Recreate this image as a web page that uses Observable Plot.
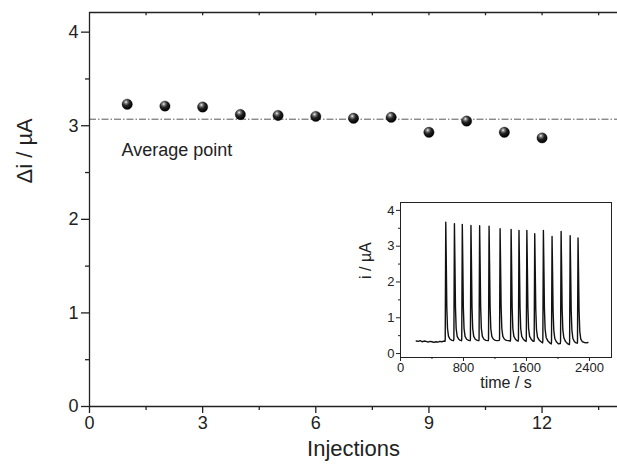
<!DOCTYPE html>
<html>
<head>
<meta charset="utf-8">
<script src="https://cdn.jsdelivr.net/npm/d3@7"></script>
<script src="https://cdn.jsdelivr.net/npm/@observablehq/plot@0.6"></script>
<style>
  html, body { margin: 0; padding: 0; background: white; }
  #wrap { position: relative; width: 617px; height: 465px; overflow: hidden; }
  #inset { position: absolute; left: 340px; top: 190px; }
  svg { display: block; }
</style>
</head>
<body>
<div id="wrap"><div id="main"></div><div id="inset"></div></div>
<script>
// ---- main chart data ----
const injections = [1, 2, 3, 4, 5, 6, 7, 8, 9, 10, 11, 12];
const deltaI = [3.23, 3.21, 3.20, 3.12, 3.11, 3.10, 3.08, 3.09, 2.93, 3.05, 2.93, 2.87];
const averagePoint = 3.07;
const averageLabel = "Average point";
const xTicks = [0, 3, 6, 9, 12];
const xMinorTicks = [1.5, 4.5, 7.5, 10.5, 13.5];
const topTicks = [1.5, 3, 4.5, 6, 7.5, 9, 10.5, 12, 13.5];
const yTicks = [0, 1, 2, 3, 4];
const yMinorTicks = [0.5, 1.5, 2.5, 3.5];
const xLabel = "Injections";
const yLabel = "Δi / µA";

// ---- inset data (current trace) ----
const traceTime = [
  200,225,250,275,300,325,350,375,400,425,450,475,500,525,550,565,
  568,575,581,588,597,610,630,655,672,
  678,685,691,698,707,720,740,760,775,
  778,785,791,798,807,820,840,865,885,
  888,895,901,908,917,930,950,975,995,
  998,1005,1011,1018,1027,1040,1060,1085,1115,
  1118,1125,1131,1138,1147,1160,1180,1205,1230,1255,
  1258,1265,1271,1278,1287,1300,1320,1345,1370,1395,
  1398,1405,1411,1418,1427,1440,1460,1480,1495,
  1498,1505,1511,1518,1527,1540,1560,1580,1595,
  1598,1605,1611,1618,1627,1640,1660,1680,1695,
  1698,1705,1711,1718,1727,1740,1760,1785,1805,
  1808,1815,1821,1828,1837,1850,1870,1895,1915,
  1918,1925,1931,1938,1947,1960,1980,2005,2030,
  2033,2040,2046,2053,2062,2075,2095,2120,2145,
  2148,2155,2161,2168,2177,2190,2210,2230,2245,
  2248,2255,2261,2268,2277,2290,2310,2335,2360,2380
];
const traceCurrent = [
  .35,.34,.36,.33,.35,.34,.32,.34,.33,.31,.33,.32,.34,.33,.35,.34,
  .40,3.67,2.65,1.30,.70,.48,.40,.37,.36,
  .40,3.63,2.60,1.30,.70,.48,.40,.37,.36,
  .40,3.61,2.60,1.30,.70,.48,.40,.37,.36,
  .40,3.58,2.58,1.30,.70,.48,.40,.37,.36,
  .40,3.57,2.57,1.30,.70,.48,.40,.37,.36,
  .40,3.56,2.56,1.30,.70,.48,.40,.37,.36,.37,
  .40,3.49,2.51,1.30,.70,.48,.40,.37,.36,.35,
  .40,3.47,2.50,1.30,.70,.48,.40,.36,.35,
  .40,3.44,2.48,1.30,.70,.48,.40,.36,.34,
  .40,3.44,2.48,1.30,.70,.48,.40,.35,.34,
  .40,3.35,2.41,1.25,.68,.46,.38,.33,.30,
  .38,3.44,2.48,1.25,.68,.45,.36,.30,.27,
  .33,3.27,2.35,1.20,.65,.42,.33,.27,.28,
  .35,3.41,2.45,1.25,.66,.44,.34,.28,.25,
  .33,3.29,2.37,1.20,.65,.42,.33,.30,.29,
  .33,3.23,2.33,1.20,.62,.40,.33,.31,.30,.31
];
const insetXTicks = [0, 800, 1600, 2400];
const insetXMinor = [400, 1200, 2000];
const insetYTicks = [0, 1, 2, 3, 4];
const insetYMinor = [0.5, 1.5, 2.5, 3.5];
const insetXLabel = "time / s";
const insetYLabel = "i / µA";

const font = "'Liberation Sans', Arial, Helvetica, sans-serif";
const ink = "#222";
const plain = d => String(d);

const points = injections.map((x, i) => ({x, y: deltaI[i]}));
const trace = traceTime.map((t, i) => ({t, i: traceCurrent[i]}));

const yTop = 4.21;
const main = Plot.plot({
  width: 617, height: 465,
  marginLeft: 89, marginRight: 0, marginTop: 12, marginBottom: 59,
  x: {domain: [0, 14]},
  y: {domain: [0, yTop]},
  style: {fontFamily: font, color: ink, background: "white", overflow: "visible"},
  marks: [
    Plot.ruleY([averagePoint], {stroke: "#444", strokeWidth: 0.9, strokeDasharray: "7,2,1.5,2"}),
    Plot.axisX(xTicks, {tickSize: 7, tickPadding: 3, fontSize: 18, tickFormat: plain, label: null, stroke: ink, strokeWidth: 1.3}),
    Plot.axisX(xMinorTicks, {tickSize: 4, tickFormat: () => "", label: null, stroke: ink, strokeWidth: 1.3}),
    Plot.axisY(yTicks, {tickSize: 8, tickPadding: 3, fontSize: 18, tickFormat: plain, label: null, stroke: ink, strokeWidth: 1.3}),
    Plot.axisY(yMinorTicks, {tickSize: 4, tickFormat: () => "", label: null, stroke: ink, strokeWidth: 1.3}),
    Plot.ruleX(topTicks, {y1: yTop, y2: yTop - 0.035, stroke: ink, strokeWidth: 1.3}),
    Plot.ruleX([0], {stroke: ink, strokeWidth: 1.3}),
    Plot.ruleY([0, yTop], {stroke: ink, strokeWidth: 1.3}),
    Plot.dot(points, {x: "x", y: "y", r: 5.2, fill: "url(#ball)", stroke: "#000", strokeWidth: 0.3}),
    Plot.text([averageLabel], {frameAnchor: "top-left", dx: 32, dy: 131, textAnchor: "start", fontSize: 18, fill: ink}),
    Plot.text([xLabel], {frameAnchor: "bottom", dy: 49, fontSize: 22, fill: ink}),
    Plot.text([yLabel], {frameAnchor: "left", dx: -65, dy: -26, rotate: -90, fontSize: 22, fill: ink})
  ]
});
const defs = d3.select(main).insert("defs", ":first-child");
const g = defs.append("radialGradient").attr("id", "ball").attr("cx", 0.38).attr("cy", 0.3).attr("r", 0.7);
g.append("stop").attr("offset", 0).attr("stop-color", "#ffffff");
g.append("stop").attr("offset", 0.18).attr("stop-color", "#888");
g.append("stop").attr("offset", 0.5).attr("stop-color", "#222");
g.append("stop").attr("offset", 1).attr("stop-color", "#000");
document.getElementById("main").append(main);

const inset = Plot.plot({
  width: 277, height: 205,
  marginLeft: 60, marginRight: 6, marginTop: 12, marginBottom: 38,
  x: {domain: [0, 2680]},
  y: {domain: [-0.11, 4.22]},
  style: {fontFamily: font, color: ink, background: "white", overflow: "visible"},
  marks: [
    Plot.frame({stroke: ink, strokeWidth: 1, fill: "white"}),
    Plot.axisX(insetXTicks, {tickSize: 4, tickPadding: 1, fontSize: 13, tickFormat: plain, label: null, stroke: ink}),
    Plot.axisX(insetXMinor, {tickSize: 2, tickFormat: () => "", label: null, stroke: ink}),
    Plot.axisY(insetYTicks, {tickSize: 4, tickPadding: 2, fontSize: 13, tickFormat: plain, label: null, stroke: ink}),
    Plot.axisY(insetYMinor, {tickSize: 2, tickFormat: () => "", label: null, stroke: ink}),
    Plot.line(trace, {x: "t", y: "i", stroke: "#111", strokeWidth: 1.4}),
    Plot.text([insetXLabel], {frameAnchor: "bottom", dy: 30, fontSize: 16, fill: ink}),
    Plot.text([insetYLabel], {frameAnchor: "left", dx: -35, dy: -1, rotate: -90, fontSize: 16, fill: ink})
  ]
});
document.getElementById("inset").append(inset);
</script>
</body>
</html>
